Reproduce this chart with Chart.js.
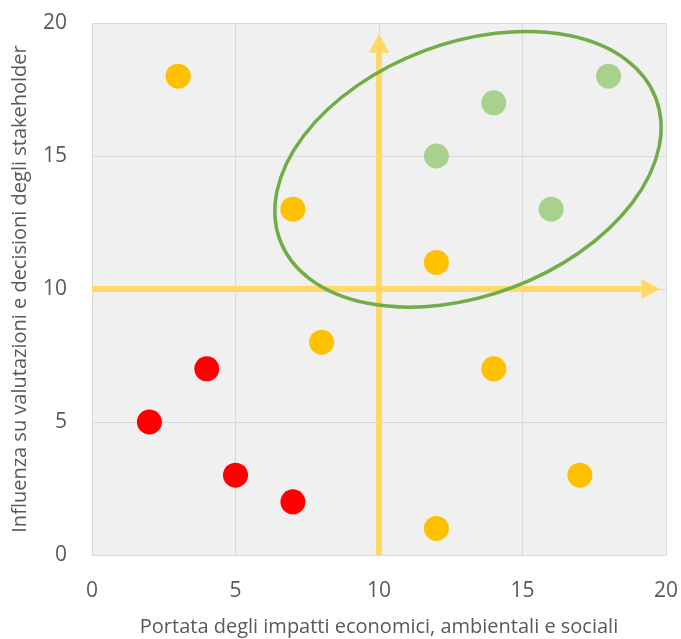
<!DOCTYPE html>
<html>
<head>
<meta charset="utf-8">
<script src="https://cdn.jsdelivr.net/npm/chart.js"></script>
<style>
  html, body { margin: 0; padding: 0; background: #fff; }
  #wrap { width: 681px; height: 639px; }
</style>
</head>
<body>
<div id="wrap"><canvas id="chart" width="681" height="639"></canvas></div>
<script>
// Values
const orangeX = [3, 7, 12, 8, 14, 12, 17];
const orangeY = [18, 13, 11, 8, 7, 1, 3];
const redX = [2, 4, 5, 7];
const redY = [5, 7, 3, 2];
const greenX = [12, 14, 16, 18];
const greenY = [15, 17, 13, 18];

const xTicks = [0, 5, 10, 15, 20];
const yTicks = [0, 5, 10, 15, 20];

// Overlays (data units)
const hArrow = { from: [0, 10], to: [19.8, 10] };
const vArrow = { from: [10, 0], to: [10, 19.6] };
const ellipseCenter = [13.1, 14.5];
const ellipseAxes = [7.0, 4.4]; // semi-axes, in x units
const ellipseAngle = 20.7;      // degrees, counter-clockwise

const xTitle = 'Portata degli impatti economici, ambientali e sociali';
const yTitle = 'Influenza su valutazioni e decisioni degli stakeholder';

function pts(xs, ys) { return xs.map((x, i) => ({ x: x, y: ys[i] })); }

const overlay = {
    id: 'overlay',
    beforeDraw(chart) {
        const a = chart.chartArea, ctx = chart.ctx;
        ctx.save();
        ctx.fillStyle = '#F0F0F0';
        ctx.fillRect(a.left, a.top, a.right - a.left, a.bottom - a.top);
        ctx.restore();
    },
    beforeDatasetsDraw(chart) {
        const ctx = chart.ctx, xs = chart.scales.x, ys = chart.scales.y;
        function arrow(ar) {
            const x1 = xs.getPixelForValue(ar.from[0]), y1 = ys.getPixelForValue(ar.from[1]);
            const x2 = xs.getPixelForValue(ar.to[0]), y2 = ys.getPixelForValue(ar.to[1]);
            const ang = Math.atan2(y2 - y1, x2 - x1);
            const head = 19, half = 10;
            const bx = x2 - head * Math.cos(ang), by = y2 - head * Math.sin(ang);
            ctx.strokeStyle = '#FFD966';
            ctx.fillStyle = '#FFD966';
            ctx.lineWidth = 6;
            ctx.beginPath();
            ctx.moveTo(x1, y1);
            ctx.lineTo(bx, by);
            ctx.stroke();
            ctx.beginPath();
            ctx.moveTo(x2, y2);
            ctx.lineTo(bx - half * Math.sin(ang), by + half * Math.cos(ang));
            ctx.lineTo(bx + half * Math.sin(ang), by - half * Math.cos(ang));
            ctx.closePath();
            ctx.fill();
        }
        ctx.save();
        arrow(hArrow);
        arrow(vArrow);
        const unit = Math.abs(xs.getPixelForValue(1) - xs.getPixelForValue(0));
        ctx.strokeStyle = '#70AD47';
        ctx.lineWidth = 3.5;
        ctx.beginPath();
        ctx.ellipse(xs.getPixelForValue(ellipseCenter[0]), ys.getPixelForValue(ellipseCenter[1]),
            ellipseAxes[0] * unit, ellipseAxes[1] * unit, -ellipseAngle * Math.PI / 180, 0, Math.PI * 2);
        ctx.stroke();
        ctx.restore();
    }
};

const font = "'Open Sans', 'Noto Sans', sans-serif";

new Chart(document.getElementById('chart').getContext('2d'), {
    type: 'scatter',
    data: {
        datasets: [
            { data: pts(orangeX, orangeY), backgroundColor: '#FFC000', borderWidth: 0, pointRadius: 12.5, pointHoverRadius: 12.5 },
            { data: pts(redX, redY), backgroundColor: '#FF0000', borderWidth: 0, pointRadius: 12.5, pointHoverRadius: 12.5 },
            { data: pts(greenX, greenY), backgroundColor: '#A9D18E', borderWidth: 0, pointRadius: 12.5, pointHoverRadius: 12.5 }
        ]
    },
    options: {
        responsive: false,
        animation: false,
        layout: { padding: { left: 0, right: 15, top: 23, bottom: 0 } },
        plugins: { legend: { display: false }, tooltip: { enabled: false } },
        scales: {
            x: {
                type: 'linear', min: 0, max: 20,
                afterBuildTicks: s => { s.ticks = xTicks.map(v => ({ value: v })); },
                afterFit: s => { s.height = 84; s.paddingLeft = 0; s.paddingRight = 0; },
                grid: { color: '#D9D9D9', drawTicks: false },
                border: { display: false },
                ticks: { color: '#595959', font: { family: font, size: 21 }, padding: 23, maxRotation: 0 },
                title: { display: true, text: xTitle, color: '#595959', font: { family: font, size: 20 }, padding: { top: 0, bottom: 0 } }
            },
            y: {
                type: 'linear', min: 0, max: 20,
                afterBuildTicks: s => { s.ticks = yTicks.map(v => ({ value: v })); },
                afterFit: s => { s.width = 92; s.paddingTop = 0; s.paddingBottom = 0; },
                grid: { color: '#D9D9D9', drawTicks: false },
                border: { display: false },
                ticks: { color: '#595959', font: { family: font, size: 21 }, padding: 25 },
                title: { display: true, text: yTitle, color: '#595959', font: { family: font, size: 20 }, padding: { top: 8, bottom: 0 } }
            }
        }
    },
    plugins: [overlay]
});
</script>
</body>
</html>
